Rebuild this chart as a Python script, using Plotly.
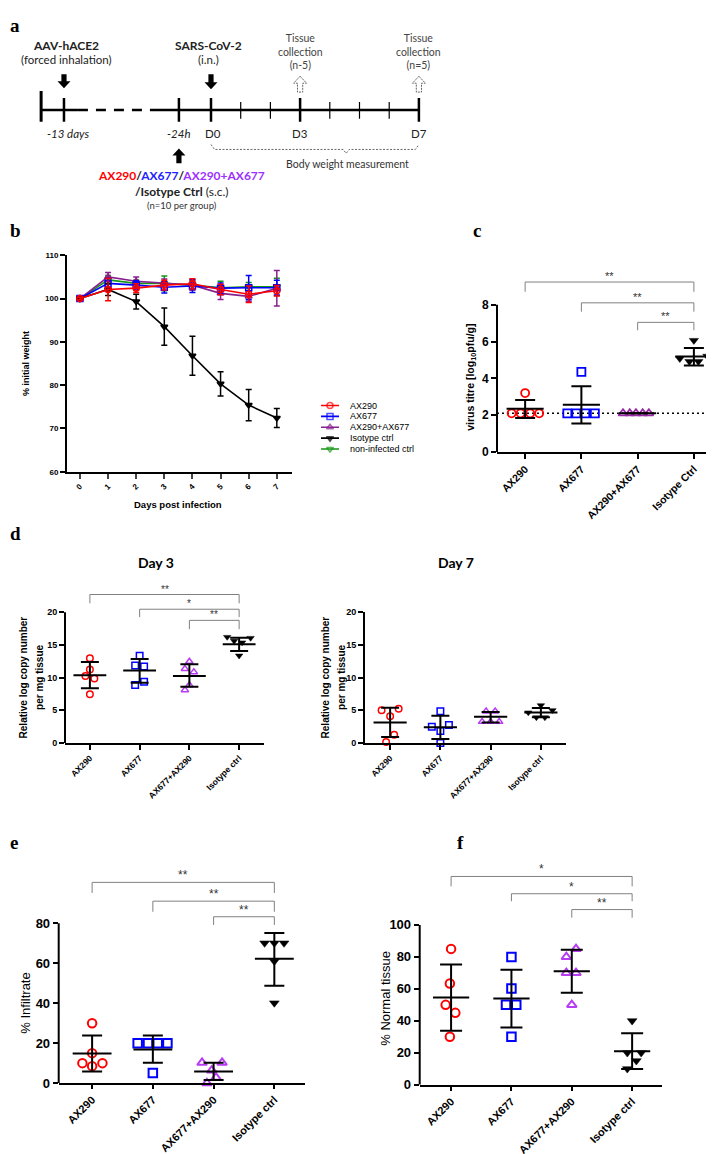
import plotly.graph_objects as go

W, H = 714, 1154
ARIAL = "Liberation Sans, Arial, sans-serif"
HUMAN = "Lato, Noto Sans, sans-serif"
SERIF = "Liberation Serif, Times New Roman, serif"
RED, BLUE, BLACK, GREEN = "#ff0000", "#0000ff", "#000000", "#159515"
PURPLE_B, PURPLE_C, VIOLET = "#88208f", "#9a2aa8", "#b93cf5"
GREY = "#808080"

# ---------------- data ----------------
# a : study timeline (positions in days; the axis is broken before -24h)
tl_start = -5.72
tl_gap = [-4.48, -2.02]
tl_labels = ["<i>-13 days</i>", "<i>-24h</i>", "D0", "D3", "D7"]
tl_label_pos = [-4.95, -1.08, 0, 3, 7]
tl_minor = [1, 2, 4, 5, 6]
tl_collect = [3, 7]
tl_collect_n = ["(n-5)", "(n=5)"]
tl_bw_tip = 4.55

# b : body weight
days = [0, 1, 2, 3, 4, 5, 6, 7]
w_ax290 = [100, 102.1, 102.4, 103.1, 103.4, 102.1, 101.0, 101.8]
sd_ax290 = [0.3, 2.6, 1.0, 1.1, 1.2, 1.2, 1.9, 1.2]
w_ax677 = [100, 103.5, 103.1, 102.6, 102.9, 102.4, 102.5, 102.5]
sd_ax677 = [0.3, 1.2, 1.0, 1.3, 1.5, 1.2, 2.8, 1.7]
w_combo = [100, 105.0, 104.0, 103.5, 103.1, 101.2, 100.5, 102.4]
sd_combo = [0.3, 1.0, 1.0, 1.0, 1.2, 1.4, 1.2, 4.1]
w_iso = [100, 102.1, 99.3, 93.5, 86.8, 80.3, 75.4, 72.4]
sd_iso = [0.3, 1.4, 1.7, 4.3, 4.5, 2.8, 3.6, 2.2]
w_noninf = [100, 104.3, 103.5, 103.5, 103.1, 102.5, 102.7, 102.7]
sd_noninf = [0.3, 1.0, 0.8, 1.7, 1.0, 1.5, 1.0, 2.0]

# c : virus titre
c_cats = ["AX290", "AX677", "AX290+AX677", "Isotype Ctrl"]
c_vals = [[2.1, 2.1, 3.2, 2.1, 2.1], [2.1, 2.1, 4.35, 2.1, 2.1],
          [2.1, 2.1, 2.1, 2.1, 2.1], [5.08, 4.92, 6.06, 4.92, 5.2]]
c_jit = [[-0.24, -0.08, 0, 0.09, 0.25], [-0.25, -0.09, 0, 0.07, 0.24],
         [-0.26, -0.14, -0.03, 0.09, 0.2], [-0.25, -0.08, 0, 0.08, 0.24]]
c_mean = [2.35, 2.57, 2.1, 5.19]
c_hi = [2.82, 3.57, 2.1, 5.65]
c_lo = [1.85, 1.55, 2.1, 4.7]
c_lod = 2.1
c_pairs = [(0, 3), (1, 3), (2, 3)]
c_sig = ["**", "**", "**"]
c_lvl = [9.23, 8.1, 7.04]
c_drop = [0.53, 0.48, 0.43]

# d : viral RNA, day 3 and day 7
d_cats = ["AX290", "AX677", "AX677+AX290", "Isotype ctrl"]
d3_vals = [[12.95, 11.25, 10.25, 9.85, 7.45], [13.35, 11.85, 11.7, 9.35, 8.85],
           [12.45, 11.35, 10.85, 8.85, 8.1], [16.2, 16.05, 15.6, 15.35, 13.35]]
d3_jit = [[0, 0, -0.09, 0.09, 0], [0, -0.09, 0.09, 0.09, -0.09],
          [0, -0.09, 0.09, 0, -0.09], [-0.24, 0.23, -0.1, 0.06, 0]]
d3_mean = [10.35, 11.1, 10.25, 15.1]
d3_hi = [12.4, 12.85, 12.05, 16.1]
d3_lo = [8.35, 9.2, 8.6, 14.05]
d3_pairs = [(0, 3), (1, 3), (2, 3)]
d3_sig = ["**", "*", "**"]
d3_lvl = [22.7, 20.45, 18.75]
d3_drop = [1.35, 1.2, 1.35]

d7_vals = [[5.0, 5.25, 4.1, 1.25, 0.15], [4.85, 2.75, 2.5, 1.85, 0.0],
           [4.85, 4.85, 3.25, 3.25, 3.25], [5.75, 4.65, 5.0, 3.9, 3.9]]
d7_jit = [[-0.17, 0.17, 0, 0.08, -0.08], [0, 0.17, -0.17, 0, 0],
          [-0.09, 0.09, -0.17, 0, 0.17], [0, -0.25, 0.23, -0.09, 0.08]]
d7_mean = [3.15, 2.4, 4.0, 4.65]
d7_hi = [5.4, 4.15, 4.75, 5.35]
d7_lo = [0.9, 0.6, 3.15, 3.95]

# e : infiltrate
e_vals = [[30, 15, 10, 10, 8.5], [20, 20, 20, 20, 5],
          [10.2, 10.2, 6.4, 2.8, 0], [70.1, 70.1, 70.1, 61, 40.1]]
e_jit = [[0, 0, -0.16, 0.17, 0], [-0.25, -0.08, 0.08, 0.24, 0],
         [-0.19, 0.14, -0.03, 0.04, -0.11], [-0.16, 0, 0.16, 0, 0]]
e_mean = [14.85, 16.8, 5.8, 62.2]
e_hi = [23.8, 23.8, 10.2, 75.1]
e_lo = [5.8, 10.2, 1.5, 48.8]
e_pairs = [(0, 3), (1, 3), (2, 3)]
e_sig = ["**", "**", "**"]
e_lvl = [100.5, 91.1, 83.3]
e_drop = [5.3, 5.3, 4.1]

# f : normal tissue
f_vals = [[85, 63.3, 50, 45, 30], [80, 60.2, 50, 50, 30],
          [85, 80, 70, 70, 50], [40, 20, 20, 15, 10]]
f_jit = [[0, -0.02, -0.09, 0.07, -0.02], [0, 0, -0.09, 0.08, 0],
         [0.07, -0.09, -0.09, 0.07, 0], [0, -0.08, 0.15, 0.07, -0.08]]
f_mean = [54.6, 54, 71, 21]
f_hi = [75.3, 72, 84.5, 32.2]
f_lo = [33.8, 35.9, 57.5, 9.8]
f_pairs = [(0, 3), (1, 3), (2, 3)]
f_sig = ["*", "*", "**"]
f_lvl = [130.3, 119.5, 109.6]
f_drop = [6.2, 4.7, 5.1]


def px(x):
    return x / W


def py(y):
    return 1 - y / H


fig = go.Figure()

# ---------------- a : timeline ----------------
PXD = 29.7  # pixels per day on the timeline


def tl_line(xs, ys, width, dash=None, color=BLACK):
    fig.add_trace(go.Scatter(x=xs, y=ys, mode="lines", xaxis="x7", yaxis="y7",
                             line=dict(color=color, width=width, dash=dash),
                             showlegend=False, hoverinfo="skip"))


def block_arrow(xc, y_tip, y_tail, fill, line_color=None, dash=None, lw=0):
    sh, hh = 2.6 / PXD, 6.5 / PXD
    hl = 7 if y_tail > y_tip else -7
    xs = [xc, xc + hh, xc + sh, xc + sh, xc - sh, xc - sh, xc - hh, xc]
    ys = [y_tip, y_tip + hl, y_tip + hl, y_tail, y_tail, y_tip + hl, y_tip + hl, y_tip]
    fig.add_trace(go.Scatter(x=xs, y=ys, mode="lines", fill="toself", fillcolor=fill,
                             line=dict(color=line_color or fill, width=lw, dash=dash),
                             xaxis="x7", yaxis="y7", showlegend=False, hoverinfo="skip"))


def tl_text(x, y, text, size=11.5, color="#222", family=HUMAN):
    fig.add_annotation(x=x, y=y, xref="x7", yref="y7", text=text, showarrow=False,
                       xanchor="center", yanchor="middle",
                       font=dict(family=family, size=size, color=color))


LY = 98
tl_line([tl_start, tl_gap[0]], [LY, LY], 2.5)
tl_line(tl_gap, [LY, LY], 2.5, dash="10px,8px")
tl_line([tl_gap[1], tl_label_pos[-1]], [LY, LY], 2.5)
tl_line([tl_start, tl_start], [79, 110], 3)
for p in tl_label_pos:
    tl_line([p, p], [86, 110], 2.5)
for p in tl_minor:
    tl_line([p, p], [90, 107], 1.2)

block_arrow(tl_label_pos[0], 76, 62, BLACK)
block_arrow(tl_label_pos[2], 77, 62, BLACK)
block_arrow(tl_label_pos[1], 137, 152, BLACK)
for p in tl_collect:
    block_arrow(p, 64, 80, "white", "#666", dash="2px,1px", lw=1)

x0, x1 = tl_label_pos[2], tl_label_pos[-1]
tl_line([x0, x0 + 0.12, tl_bw_tip - 0.1, tl_bw_tip, tl_bw_tip + 0.1, x1 - 0.12, x1],
        [133, 138, 138, 142, 138, 138, 133], 1, dash="2px,1.5px", color="#666")

tl_text(-4.88, 33, "<b>AAV-hACE2</b>", 12)
tl_text(-4.88, 47, "(forced inhalation)", 11.5)
tl_text(-0.07, 33, "<b>SARS-CoV-2</b>", 12)
tl_text(-0.07, 47, "(i.n.)", 11.5)
for p, n in zip(tl_collect, tl_collect_n):
    tl_text(p, 39, "Tissue<br>collection<br>" + n, 10.5, "#444")
for p, lab in zip(tl_label_pos, tl_labels):
    tl_text(p + (0.15 if p < -4 else 0.07 if p == 0 else 0), 122, lab, 11.5)
tl_text(4.6, 153, "Body weight measurement", 10.5, "#333")
tl_text(-1.0, 164, '<b><span style="color:#ff0000">AX290</span>/'
        '<span style="color:#2222ff">AX677</span>/'
        '<span style="color:#9b30ff">AX290+AX677</span></b>', 12)
tl_text(-0.98, 181, "<b>/Isotype Ctrl</b> (s.c.)", 12)
tl_text(-0.98, 195, "(n=10 per group)", 9.5, "#333")

# ---------------- b : body weight ----------------
b_series = [
    ("non-infected ctrl", w_noninf, sd_noninf, GREEN, "triangle-down-open", 4),
    ("AX290+AX677", w_combo, sd_combo, PURPLE_B, "triangle-up-open", 2),
    ("AX677", w_ax677, sd_ax677, BLUE, "square-open", 1),
    ("Isotype ctrl", w_iso, sd_iso, BLACK, "triangle-down", 3),
    ("AX290", w_ax290, sd_ax290, RED, "circle-open", 0),
]
for name, w, sd, col, sym, rank in b_series:
    fig.add_trace(go.Scatter(
        x=days, y=w, name=name, mode="lines+markers",
        line=dict(color=col, width=1.6),
        marker=dict(symbol=sym, size=6, color=col, line=dict(color=col, width=1.5)),
        error_y=dict(type="data", array=sd, width=3, thickness=1.5, color=col),
        xaxis="x", yaxis="y", cliponaxis=False, hoverinfo="skip", showlegend=False))

# hand-built legend (rows are tighter than plotly's own legend allows)
LEG_TOP, LEG_STEP = 397, 11
for name, w, sd, col, sym, rank in b_series:
    yy = LEG_TOP + rank * LEG_STEP
    fig.add_trace(go.Scatter(
        x=[313, 322, 331], y=[yy, yy, yy], mode="lines+markers", xaxis="x8", yaxis="y8",
        line=dict(color=col, width=1.6),
        marker=dict(symbol=sym, size=[0, 6, 0], color=col, line=dict(color=col, width=1.5)),
        showlegend=False, hoverinfo="skip", cliponaxis=False))
    fig.add_annotation(x=340, y=yy, xref="x8", yref="y8", text=name, showarrow=False,
                       xanchor="left", yanchor="middle",
                       font=dict(family=ARIAL, size=9, color=BLACK))

# ---------------- dot plots ----------------
SYMBOLS = ["circle-open", "square-open", "triangle-up-open", "triangle-down"]


def dot_panel(n, vals, jit, mean, hi, lo, half, cap, colors, size, lw):
    xr, yr = "x%d" % n, "y%d" % n
    for i in range(len(vals)):
        fig.add_trace(go.Scatter(
            x=[i + j for j in jit[i]], y=vals[i], mode="markers",
            marker=dict(symbol=SYMBOLS[i], size=size, color=colors[i],
                        line=dict(color=colors[i], width=lw if i < 3 else 0.5)),
            xaxis=xr, yaxis=yr, showlegend=False, hoverinfo="skip", cliponaxis=False))
    mx, my = [], []
    for i, m in enumerate(mean):
        mx += [i - half, i + half, None]
        my += [m, m, None]
    fig.add_trace(go.Scatter(x=mx, y=my, mode="lines", line=dict(color=BLACK, width=2),
                             xaxis=xr, yaxis=yr, showlegend=False, hoverinfo="skip"))
    fig.add_trace(go.Scatter(
        x=list(range(len(mean))), y=mean, mode="markers",
        marker=dict(size=2, color="rgba(0,0,0,0)"),
        error_y=dict(type="data", symmetric=False,
                     array=[h - m for h, m in zip(hi, mean)],
                     arrayminus=[m - l for m, l in zip(mean, lo)],
                     width=cap, thickness=2, color=BLACK),
        xaxis=xr, yaxis=yr, showlegend=False, hoverinfo="skip"))


def brackets(n, pairs, levels, drops, labels, size=11):
    xr, yr = "x%d" % n, "y%d" % n
    for (a, b), lv, dr, lab in zip(pairs, levels, drops, labels):
        fig.add_trace(go.Scatter(x=[a, a, b, b], y=[lv - dr, lv, lv, lv - dr], mode="lines",
                                 line=dict(color=GREY, width=1), xaxis=xr, yaxis=yr,
                                 showlegend=False, hoverinfo="skip"))
        fig.add_annotation(x=(a + b) / 2, y=lv, xref=xr, yref=yr, text=lab, showarrow=False,
                           xanchor="center", yanchor="bottom", yshift=-2,
                           font=dict(family=ARIAL, size=size, color="#333"))


def y_axis_line(n, top):
    fig.add_shape(type="line", xref="x%d domain" % n, yref="y%d" % n, x0=0, x1=0, y0=0, y1=top,
                  line=dict(color=BLACK, width=2))


cols_c = [RED, BLUE, PURPLE_C, BLACK]
cols_v = [RED, BLUE, VIOLET, BLACK]

fig.add_trace(go.Scatter(x=[-0.5, 3.5], y=[c_lod, c_lod], mode="lines", xaxis="x2", yaxis="y2",
                         line=dict(color=BLACK, width=1.5, dash="2px,3px"),
                         showlegend=False, hoverinfo="skip"))
dot_panel(2, c_vals, c_jit, c_mean, c_hi, c_lo, 0.33, 10, cols_c, 8, 1.8)
brackets(2, c_pairs, c_lvl, c_drop, c_sig, 11)
y_axis_line(2, 8)

dot_panel(3, d3_vals, d3_jit, d3_mean, d3_hi, d3_lo, 0.33, 9, cols_v, 6.5, 1.5)
brackets(3, d3_pairs, d3_lvl, d3_drop, d3_sig, 10)
y_axis_line(3, 20)

dot_panel(4, d7_vals, d7_jit, d7_mean, d7_hi, d7_lo, 0.33, 9, cols_v, 6.5, 1.5)

dot_panel(5, e_vals, e_jit, e_mean, e_hi, e_lo, 0.32, 10, cols_v, 8.5, 2)
brackets(5, e_pairs, e_lvl, e_drop, e_sig, 12)
y_axis_line(5, 80)

dot_panel(6, f_vals, f_jit, f_mean, f_hi, f_lo, 0.3, 11, cols_v, 8.5, 2)
brackets(6, f_pairs, f_lvl, f_drop, f_sig, 12)
y_axis_line(6, 100)


# ---------------- axes ----------------
def x_cat(dom, rng, anchor, labels, size, ticklen=5):
    return dict(domain=dom, range=rng, anchor=anchor, tickmode="array",
                tickvals=list(range(len(labels))), ticktext=labels, tickangle=-45,
                showline=True, linewidth=2, linecolor=BLACK, ticks="outside", ticklen=ticklen,
                tickwidth=2, tickcolor=BLACK, showgrid=False, zeroline=False,
                tickfont=dict(family=ARIAL, size=size, color=BLACK, weight="bold"))


def y_val(dom, rng, anchor, tickvals, size, line=False):
    return dict(domain=dom, range=rng, anchor=anchor, tickmode="array", tickvals=tickvals,
                showline=line, linewidth=2, linecolor=BLACK, ticks="outside", ticklen=5,
                tickwidth=2, tickcolor=BLACK, showgrid=False, zeroline=False,
                tickfont=dict(family=ARIAL, size=size, color=BLACK, weight="bold"))


fig.update_layout(
    width=W, height=H, margin=dict(l=0, r=0, t=0, b=0),
    paper_bgcolor="white", plot_bgcolor="rgba(0,0,0,0)", showlegend=False,
    xaxis=dict(domain=[px(59), px(284)], range=[-0.46, 7.54], anchor="y", tickmode="array",
               tickvals=days, tickangle=-45, showline=True, linewidth=2, linecolor=BLACK,
               ticks="outside", ticklen=5, tickwidth=1.5, showgrid=False, zeroline=False,
               tickfont=dict(family=ARIAL, size=8, color=BLACK, weight="bold")),
    yaxis=y_val([py(464), py(245)], [60, 110], "x", [60, 70, 80, 90, 100, 110], 8, True),
    xaxis2=x_cat([px(489), 1.0], [-0.5, 3.5], "y2", c_cats, 10.5),
    yaxis2=y_val([py(444), py(258)], [0, 186 / 18.625], "x2", [0, 2, 4, 6, 8], 12),
    xaxis3=x_cat([px(57), px(256)], [-0.5, 3.5], "y3", d_cats, 8.5),
    yaxis3=y_val([py(738.3), py(575)], [0, (738.3 - 575) / 6.615], "x3", [0, 5, 10, 15, 20], 9),
    xaxis4=x_cat([px(357), px(558)], [-0.5, 3.5], "y4", d_cats, 8.5),
    yaxis4=y_val([py(738.3), py(606)], [0, 20], "x4", [0, 5, 10, 15, 20], 9, True),
    xaxis5=x_cat([px(50.7), px(296.7)], [-0.55, 3.5], "y5", d_cats, 11, 4),
    yaxis5=y_val([py(1082.3), py(866)], [0, (1082.3 - 866) / 2.02], "x5", [0, 20, 40, 60, 80], 13),
    xaxis6=x_cat([px(411.7), px(654.3)], [-0.52, 3.5], "y6", d_cats, 11, 4),
    yaxis6=y_val([py(1084), py(858)], [0, (1084 - 858) / 1.617], "x6", [0, 20, 40, 60, 80, 100], 13),
    xaxis7=dict(domain=[0, 1], range=[-203 / PXD, (W - 203) / PXD], anchor="y7", visible=False),
    yaxis7=dict(domain=[py(230), 1], range=[230, 0], anchor="x7", visible=False),
    xaxis8=dict(domain=[px(290), px(440)], range=[290, 440], anchor="y8", visible=False),
    yaxis8=dict(domain=[py(450), py(385)], range=[450, 385], anchor="x8", visible=False),
)


def note(x, y, text, size, angle=0, family=ARIAL, bold=False, color=BLACK):
    fig.add_annotation(x=px(x), y=py(y), xref="paper", yref="paper", text=text, showarrow=False,
                       xanchor="center", yanchor="middle", textangle=angle,
                       font=dict(family=family, size=size, color=color,
                                 weight="bold" if bold else "normal"))


# axis titles
note(18, 355, "% initial weight", 9, -90, bold=True)
note(170, 497, "Days post infection", 9.5, bold=True)
note(463, 369, "virus titre [log<sub>10</sub>pfu/g]", 10.5, -90, bold=True)
note(15, 672, "Relative log copy number", 10, -90, bold=True)
note(31.5, 672, "per mg tissue", 10, -90, bold=True)
note(317, 672, "Relative log copy number", 10, -90, bold=True)
note(333.5, 672, "per mg tissue", 10, -90, bold=True)
note(148, 556, "Day 3", 14, family=HUMAN, bold=True)
note(448, 556, "Day 7", 14, family=HUMAN, bold=True)
note(18, 1002, "% Infiltrate", 13, -90)
note(378, 997, "% Normal tissue", 13, -90)

# panel letters
fig.add_annotation(x=0, y=1, xref="paper", yref="paper", text="a", showarrow=False,
                   xanchor="left", yanchor="top",
                   font=dict(family=SERIF, size=19, color=BLACK, weight="bold"))
for lab, x, base in [("b", 0, 229), ("c", 463, 229),
                     ("d", 0, 535), ("e", 0, 848), ("f", 447, 848)]:
    fig.add_annotation(x=px(x), y=py(base + 4), xref="paper", yref="paper", text=lab,
                       showarrow=False, xanchor="left", yanchor="bottom",
                       font=dict(family=SERIF, size=19, color=BLACK, weight="bold"))

fig.write_html("out.html")
